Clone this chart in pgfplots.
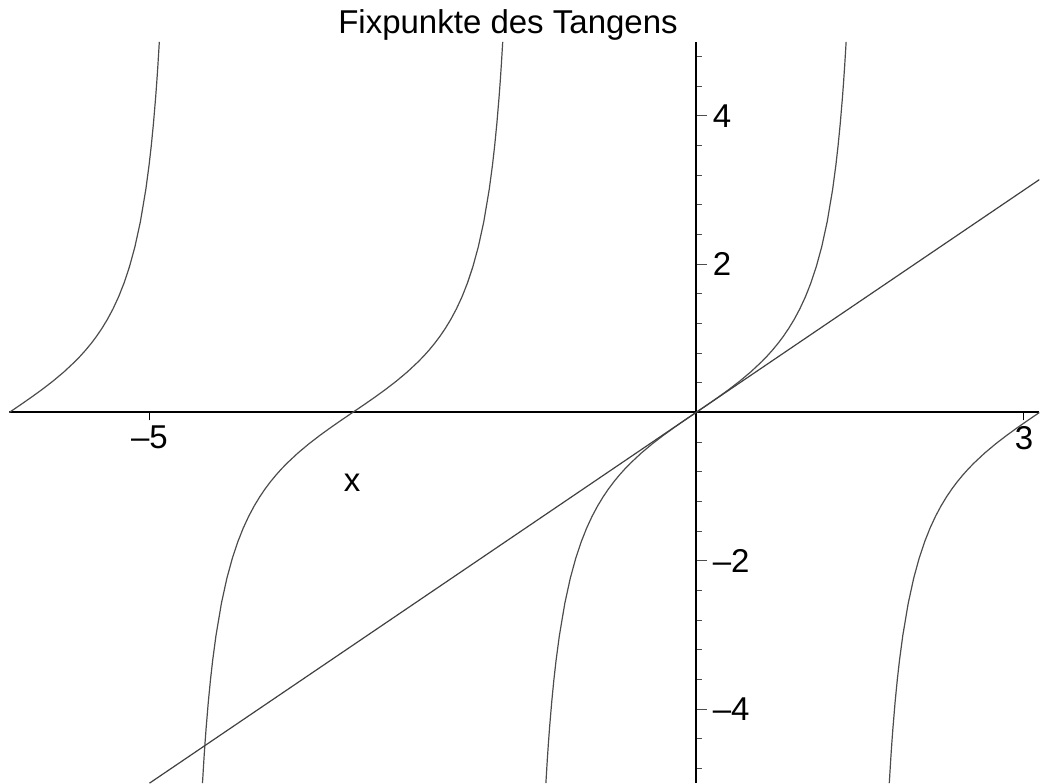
\documentclass[border=0pt]{standalone}
\usepackage{pgfplots}
\pgfplotsset{compat=1.18}
\usepackage{fontspec}
\setmainfont{Liberation Sans}

% branches of tan(x) between -2pi and pi, cut at |y| = 5
\pgfplotstableread{
x y
-6.28319 0
-6.18319 0.1003
-6.08319 0.2027
-5.98319 0.3093
-5.88319 0.4228
-5.78319 0.5463
-5.68319 0.6841
-5.63319 0.7602
-5.58319 0.8423
-5.53319 0.9316
-5.48319 1.0296
-5.43319 1.1383
-5.38319 1.2602
-5.33319 1.3984
-5.28319 1.5574
-5.23319 1.7433
-5.18319 1.9648
-5.13319 2.2345
-5.08319 2.5722
-5.03319 3.0096
-5.00319 3.3414
-4.98319 3.6021
-4.96319 3.9034
-4.94319 4.2557
-4.93319 4.4552
-4.92319 4.6735
-4.90979 5
}\branchA

\pgfplotstableread{
x y
-4.51499 -5
-4.50159 -4.6735
-4.49159 -4.4552
-4.48159 -4.2557
-4.46159 -3.9034
-4.44159 -3.6021
-4.42159 -3.3414
-4.39159 -3.0096
-4.34159 -2.5722
-4.29159 -2.2345
-4.24159 -1.9648
-4.19159 -1.7433
-4.14159 -1.5574
-4.09159 -1.3984
-4.04159 -1.2602
-3.99159 -1.1383
-3.94159 -1.0296
-3.89159 -0.9316
-3.84159 -0.8423
-3.79159 -0.7602
-3.74159 -0.6841
-3.64159 -0.5463
-3.54159 -0.4228
-3.44159 -0.3093
-3.34159 -0.2027
-3.24159 -0.1003
-3.14159 0
-3.04159 0.1003
-2.94159 0.2027
-2.84159 0.3093
-2.74159 0.4228
-2.64159 0.5463
-2.54159 0.6841
-2.49159 0.7602
-2.44159 0.8423
-2.39159 0.9316
-2.34159 1.0296
-2.29159 1.1383
-2.24159 1.2602
-2.19159 1.3984
-2.14159 1.5574
-2.09159 1.7433
-2.04159 1.9648
-1.99159 2.2345
-1.94159 2.5722
-1.89159 3.0096
-1.86159 3.3414
-1.84159 3.6021
-1.82159 3.9034
-1.80159 4.2557
-1.79159 4.4552
-1.78159 4.6735
-1.76819 5
}\branchB

\pgfplotstableread{
x y
-1.3734 -5
-1.36 -4.6735
-1.35 -4.4552
-1.34 -4.2557
-1.32 -3.9034
-1.30 -3.6021
-1.28 -3.3414
-1.25 -3.0096
-1.20 -2.5722
-1.15 -2.2345
-1.10 -1.9648
-1.05 -1.7433
-1.00 -1.5574
-0.95 -1.3984
-0.90 -1.2602
-0.85 -1.1383
-0.80 -1.0296
-0.75 -0.9316
-0.70 -0.8423
-0.65 -0.7602
-0.60 -0.6841
-0.50 -0.5463
-0.40 -0.4228
-0.30 -0.3093
-0.20 -0.2027
-0.10 -0.1003
0 0
0.10 0.1003
0.20 0.2027
0.30 0.3093
0.40 0.4228
0.50 0.5463
0.60 0.6841
0.65 0.7602
0.70 0.8423
0.75 0.9316
0.80 1.0296
0.85 1.1383
0.90 1.2602
0.95 1.3984
1.00 1.5574
1.05 1.7433
1.10 1.9648
1.15 2.2345
1.20 2.5722
1.25 3.0096
1.28 3.3414
1.30 3.6021
1.32 3.9034
1.34 4.2557
1.35 4.4552
1.36 4.6735
1.3734 5
}\branchC

\pgfplotstableread{
x y
1.76819 -5
1.78159 -4.6735
1.79159 -4.4552
1.80159 -4.2557
1.82159 -3.9034
1.84159 -3.6021
1.86159 -3.3414
1.89159 -3.0096
1.94159 -2.5722
1.99159 -2.2345
2.04159 -1.9648
2.09159 -1.7433
2.14159 -1.5574
2.19159 -1.3984
2.24159 -1.2602
2.29159 -1.1383
2.34159 -1.0296
2.39159 -0.9316
2.44159 -0.8423
2.49159 -0.7602
2.54159 -0.6841
2.64159 -0.5463
2.74159 -0.4228
2.84159 -0.3093
2.94159 -0.2027
3.04159 -0.1003
3.14159 0
}\branchD

% the identity y = x
\pgfplotstableread{
x y
-5 -5
3.14159 3.14159
}\identity

\begin{document}
\begin{tikzpicture}
\begin{axis}[
  scale only axis,
  width=772.65pt, height=556.05pt,
  xmin=-6.28319, xmax=3.14159,
  ymin=-5, ymax=5,
  enlargelimits=false,
  axis lines=middle,
  axis line style={-, black, line width=1.5pt},
  clip mode=individual,
  font=\fontsize{24.75}{30}\selectfont,
  xtick=\empty,
  extra x ticks={-5,3},
  extra x tick labels={–5,3},
  extra x tick style={
    major tick length=6pt,
    tick align=outside,
    major tick style={black, line width=0.8pt},
    xticklabel style={anchor=north, inner sep=0pt, yshift=-4pt},
  },
  ytick={-4,-2,2,4},
  yticklabels={–4,–2,2,4},
  minor ytick={-4.8,-4.4,-3.6,-3.2,-2.8,-2.4,-1.6,-1.2,-0.8,-0.4,
               0.4,0.8,1.2,1.6,2.4,2.8,3.2,3.6,4.4,4.8},
  ytick align=inside,
  major tick length=8.4pt,
  minor tick length=4.3pt,
  major tick style={black!70, line width=0.8pt},
  minor tick style={black!70, line width=0.8pt},
  yticklabel style={anchor=west, inner sep=0pt, xshift=12.4pt},
]
\addplot[black!70, line width=0.9pt] table {\branchA};
\addplot[black!70, line width=0.9pt] table {\branchB};
\addplot[black!70, line width=0.9pt] table {\branchC};
\addplot[black!70, line width=0.9pt] table {\branchD};
\addplot[black!75, line width=0.9pt] table {\identity};
\node[anchor=base, inner sep=0pt] at (axis cs:-1.72,5.11) {Fixpunkte des Tangens};
\node[anchor=base, inner sep=0pt] at (axis cs:-3.147,-1.06) {x};
\coordinate (bl) at (rel axis cs:0,0);
\end{axis}
\pgfresetboundingbox
\path[use as bounding box] (bl) ++(-6.9pt,-0.6pt) rectangle ++(781.5pt,588pt);
\end{tikzpicture}
\end{document}
